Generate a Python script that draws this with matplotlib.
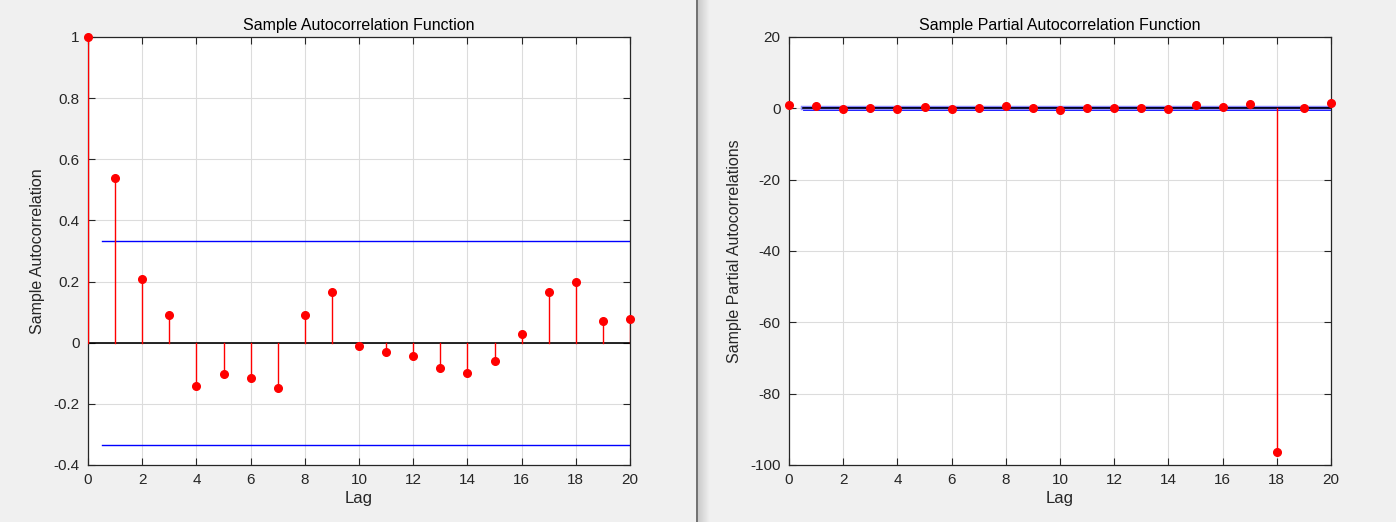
import matplotlib
matplotlib.use("Agg")
import matplotlib.pyplot as plt
import numpy as np

plt.rcParams['font.family'] = ['Liberation Sans', 'DejaVu Sans']
plt.rcParams['axes.unicode_minus'] = False

lags = list(range(21))
acf = [1.0, 0.539, 0.208, 0.09, -0.142, -0.102, -0.115, -0.148, 0.09, 0.166,
       -0.011, -0.03, -0.043, -0.083, -0.099, -0.06, 0.028, 0.165, 0.2, 0.071, 0.078]
acf_bound = 0.333
pacf = [1.0, 0.7, -0.1, 0.2, -0.3, 0.35, -0.2, 0.15, 0.6, 0.15,
        -0.4, 0.15, 0.15, 0.0, -0.15, 0.9, 0.3, 1.1, -96.4, 0.1, 1.5]
pacf_bound = 0.333

titles = ["Sample Autocorrelation Function", "Sample Partial Autocorrelation Function"]
ylabels = ["Sample Autocorrelation", "Sample Partial Autocorrelations"]
xlabel = "Lag"

W, H = 1396, 522
fig = plt.figure(figsize=(W / 100, H / 100), dpi=100, facecolor='#F0F0F0')

# panel divider
fig.add_artist(plt.Line2D([697 / W, 697 / W], [0, 1], color='#5a5a5a', lw=1.2,
                          transform=fig.transFigure))
grad = np.linspace(0.80, 0.94, 12).reshape(1, -1)
gax = fig.add_axes([698 / W, 0, 12 / W, 1])
gax.imshow(np.dstack([grad, grad, grad]), aspect='auto', extent=[0, 1, 0, 1])
gax.axis('off')


def style(ax):
    ax.set_facecolor('white')
    ax.grid(True, color='#dcdcdc', lw=0.8)
    ax.set_axisbelow(True)
    for s in ax.spines.values():
        s.set_color('#262626')
        s.set_linewidth(0.9)
    ax.tick_params(direction='in', top=True, right=True, length=5, width=0.8,
                   colors='#262626', labelsize=11, pad=6)


def draw(ax, vals, bound, zero_start, blw):
    ax.plot([0.5, 20], [bound, bound], color='blue', lw=blw, zorder=2)
    ax.plot([0.5, 20], [-bound, -bound], color='blue', lw=blw, zorder=2)
    ax.plot([zero_start, 20], [0, 0], color='black', lw=1.2, zorder=2.5)
    for x, v in zip(lags, vals):
        ax.plot([x, x], [0, v], color='red', lw=1.0, zorder=3)
    ax.plot(lags, vals, 'o', color='red', ms=5.5, zorder=4, clip_on=False)


# left
ax1 = fig.add_axes([88 / W, (H - 465) / H, 542 / W, 428 / H])
draw(ax1, acf, acf_bound, 0, 1.0)
ax1.set_xlim(0, 20)
ax1.set_ylim(-0.4, 1)
ax1.set_xticks(range(0, 21, 2))
ax1.set_yticks(np.arange(-0.4, 1.01, 0.2))
ax1.set_yticklabels(['-0.4', '-0.2', '0', '0.2', '0.4', '0.6', '0.8', '1'])
style(ax1)
ax1.set_title(titles[0], fontsize=11.5, color='#000000', pad=5)
ax1.set_xlabel(xlabel, fontsize=12, color='#262626', labelpad=3)
ax1.set_ylabel(ylabels[0], fontsize=11.5, color='#262626', labelpad=6)

# right
ax2 = fig.add_axes([789 / W, (H - 465) / H, 542 / W, 428 / H])
ax2.plot([0.5, 20], [0, 0], color='#8c8cff', lw=3.2, zorder=1.5)
draw(ax2, pacf, pacf_bound, 0.5, 0.6)
ax2.set_xlim(0, 20)
ax2.set_ylim(-100, 20)
ax2.set_xticks(range(0, 21, 2))
ax2.set_yticks(range(-100, 21, 20))
style(ax2)
ax2.set_title(titles[1], fontsize=11.5, color='#000000', pad=5)
ax2.set_xlabel(xlabel, fontsize=12, color='#262626', labelpad=3)
ax2.set_ylabel(ylabels[1], fontsize=11.5, color='#262626', labelpad=6)

fig.savefig('out.png', dpi=100, facecolor=fig.get_facecolor())
